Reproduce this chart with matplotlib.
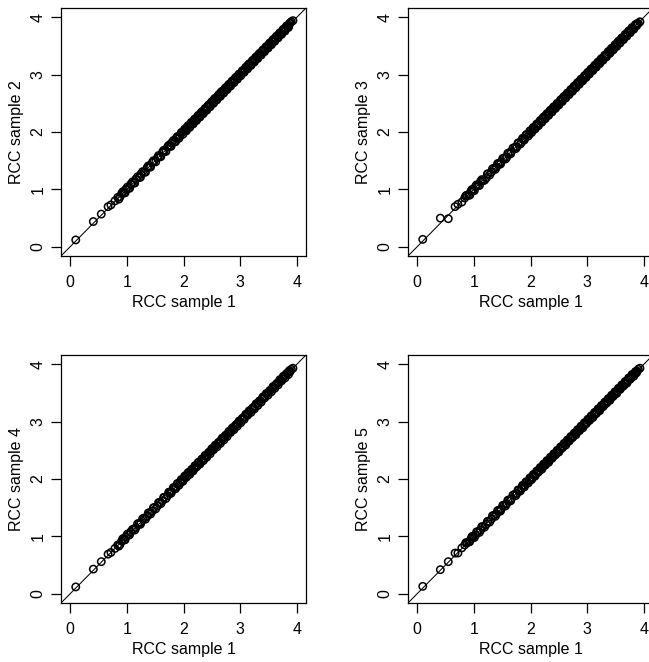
import numpy as np
import matplotlib
matplotlib.use("Agg")
import matplotlib.pyplot as plt

plt.rcParams['font.family'] = ['Liberation Sans', 'DejaVu Sans']

# RCC sample 1 (x axis of every panel)
sample1 = [0.10, 0.41, 0.55, 0.67, 0.72, 0.79, 0.84, 0.88, 0.91, 0.95,
           0.98, 1.03, 1.07, 1.12, 1.16, 1.22, 1.25, 1.31, 1.36, 1.40,
           1.45, 1.48, 1.54, 1.58, 1.63, 1.66, 1.72, 1.76, 1.79, 1.84,
           1.87, 1.90, 1.94, 1.98, 2.00, 2.04, 2.06, 2.10, 2.12, 2.15,
           2.19, 2.21, 2.25, 2.27, 2.31, 2.33, 2.37, 2.39, 2.42, 2.46,
           2.48, 2.52, 2.54, 2.57, 2.61, 2.63, 2.66, 2.70, 2.72, 2.75,
           2.79, 2.81, 2.85, 2.87, 2.90, 2.94, 2.96, 2.99, 3.03, 3.05,
           3.08, 3.12, 3.14, 3.17, 3.21, 3.23, 3.26, 3.30, 3.32, 3.35,
           3.39, 3.41, 3.44, 3.48, 3.50, 3.53, 3.57, 3.59, 3.62, 3.66,
           3.68, 3.71, 3.75, 3.77, 3.80, 3.84, 3.86, 3.88, 3.90, 3.93,
           0.86, 0.93, 0.97, 1.01, 1.05, 1.10, 1.14, 1.19, 1.24, 1.28,
           1.33, 1.38, 1.42, 1.47, 1.51, 1.56, 1.60, 1.65, 1.69, 1.74,
           1.78, 1.82, 1.86, 1.89, 1.92, 1.96, 1.99, 2.02, 2.05, 2.08,
           2.11, 2.14, 2.17, 2.20, 2.23, 2.26, 2.29, 2.32, 2.35, 2.38,
           2.41, 2.44, 2.47, 2.50, 2.53, 2.56, 2.59, 2.62, 2.65, 2.68,
           2.71, 2.74, 2.77, 2.80, 2.83, 2.86, 2.89, 2.92, 2.95, 2.98,
           3.01, 3.04, 3.07, 3.10, 3.13, 3.16, 3.19, 3.22, 3.25, 3.28,
           3.31, 3.34, 3.37, 3.40, 3.43, 3.46, 3.49, 3.52, 3.55, 3.58,
           3.61, 3.64, 3.67, 3.70, 3.73, 3.76, 3.79, 3.82, 3.85, 3.87]

sample2 = [0.12, 0.44, 0.57, 0.70, 0.73, 0.80, 0.86, 0.87, 0.93, 0.94,
           1.00, 1.02, 1.09, 1.11, 1.18, 1.21, 1.27, 1.30, 1.38, 1.39,
           1.47, 1.49, 1.55, 1.57, 1.65, 1.66, 1.74, 1.75, 1.81, 1.83,
           1.89, 1.91, 1.93, 2.00, 2.01, 2.03, 2.08, 2.09, 2.14, 2.14,
           2.21, 2.20, 2.27, 2.26, 2.33, 2.32, 2.39, 2.38, 2.44, 2.45,
           2.50, 2.51, 2.57, 2.56, 2.63, 2.62, 2.69, 2.69, 2.74, 2.74,
           2.81, 2.80, 2.87, 2.86, 2.92, 2.93, 2.98, 2.98, 3.05, 3.04,
           3.10, 3.11, 3.17, 3.16, 3.23, 3.22, 3.28, 3.29, 3.34, 3.34,
           3.41, 3.40, 3.46, 3.47, 3.52, 3.52, 3.59, 3.58, 3.64, 3.65,
           3.70, 3.70, 3.77, 3.76, 3.82, 3.83, 3.86, 3.90, 3.92, 3.94,
           0.83, 0.96, 0.94, 1.04, 1.02, 1.13, 1.11, 1.22, 1.21, 1.31,
           1.30, 1.41, 1.39, 1.50, 1.48, 1.59, 1.57, 1.68, 1.66, 1.77,
           1.75, 1.85, 1.83, 1.92, 1.89, 1.99, 1.96, 2.05, 2.02, 2.11,
           2.08, 2.17, 2.14, 2.23, 2.20, 2.29, 2.26, 2.35, 2.32, 2.41,
           2.38, 2.47, 2.44, 2.53, 2.50, 2.59, 2.56, 2.65, 2.62, 2.71,
           2.68, 2.77, 2.74, 2.83, 2.80, 2.89, 2.86, 2.95, 2.92, 3.01,
           2.98, 3.07, 3.04, 3.13, 3.10, 3.19, 3.16, 3.25, 3.22, 3.31,
           3.28, 3.37, 3.34, 3.43, 3.40, 3.49, 3.46, 3.55, 3.52, 3.61,
           3.58, 3.67, 3.64, 3.73, 3.70, 3.79, 3.76, 3.85, 3.82, 3.89]

sample3 = [0.13, 0.50, 0.49, 0.70, 0.74, 0.78, 0.85, 0.90, 0.90, 0.97,
           0.97, 1.05, 1.06, 1.14, 1.15, 1.20, 1.27, 1.30, 1.37, 1.39,
           1.46, 1.47, 1.55, 1.56, 1.64, 1.65, 1.73, 1.74, 1.81, 1.82,
           1.88, 1.89, 1.96, 1.96, 2.02, 2.06, 2.05, 2.11, 2.11, 2.16,
           2.18, 2.23, 2.24, 2.29, 2.30, 2.35, 2.36, 2.41, 2.41, 2.47,
           2.47, 2.53, 2.53, 2.59, 2.60, 2.65, 2.65, 2.71, 2.71, 2.77,
           2.78, 2.83, 2.84, 2.89, 2.89, 2.95, 2.95, 3.01, 3.02, 3.07,
           3.07, 3.13, 3.13, 3.19, 3.20, 3.25, 3.25, 3.31, 3.31, 3.36,
           3.38, 3.43, 3.43, 3.49, 3.49, 3.55, 3.56, 3.61, 3.61, 3.67,
           3.67, 3.73, 3.74, 3.78, 3.79, 3.85, 3.87, 3.89, 3.89, 3.92,
           0.89, 0.90, 1.00, 0.98, 1.08, 1.07, 1.17, 1.16, 1.27, 1.25,
           1.36, 1.35, 1.45, 1.44, 1.54, 1.53, 1.63, 1.62, 1.72, 1.71,
           1.81, 1.79, 1.89, 1.86, 1.95, 1.93, 2.02, 1.99, 2.08, 2.05,
           2.14, 2.11, 2.20, 2.17, 2.26, 2.23, 2.32, 2.29, 2.38, 2.35,
           2.44, 2.41, 2.50, 2.47, 2.56, 2.53, 2.62, 2.59, 2.68, 2.65,
           2.74, 2.71, 2.80, 2.77, 2.86, 2.83, 2.92, 2.89, 2.98, 2.95,
           3.04, 3.01, 3.10, 3.07, 3.16, 3.13, 3.22, 3.19, 3.28, 3.25,
           3.34, 3.31, 3.40, 3.37, 3.46, 3.43, 3.52, 3.49, 3.58, 3.55,
           3.64, 3.61, 3.70, 3.67, 3.76, 3.73, 3.82, 3.79, 3.87, 3.85]

sample4 = [0.12, 0.43, 0.56, 0.69, 0.72, 0.79, 0.85, 0.86, 0.92, 0.94,
           0.99, 1.02, 1.08, 1.13, 1.15, 1.23, 1.24, 1.32, 1.35, 1.41,
           1.44, 1.50, 1.53, 1.59, 1.62, 1.68, 1.71, 1.77, 1.78, 1.85,
           1.86, 1.92, 1.93, 1.99, 1.99, 2.06, 2.05, 2.12, 2.11, 2.17,
           2.18, 2.23, 2.24, 2.29, 2.30, 2.35, 2.36, 2.41, 2.41, 2.47,
           2.49, 2.53, 2.55, 2.58, 2.62, 2.64, 2.67, 2.71, 2.73, 2.76,
           2.80, 2.82, 2.86, 2.88, 2.91, 2.95, 2.97, 3.00, 3.04, 3.06,
           3.09, 3.13, 3.15, 3.18, 3.22, 3.24, 3.27, 3.31, 3.33, 3.36,
           3.40, 3.42, 3.45, 3.49, 3.51, 3.54, 3.58, 3.60, 3.63, 3.67,
           3.69, 3.72, 3.76, 3.78, 3.81, 3.85, 3.87, 3.87, 3.91, 3.93,
           0.83, 0.96, 0.94, 1.04, 1.03, 1.12, 1.11, 1.22, 1.21, 1.31,
           1.30, 1.41, 1.39, 1.50, 1.48, 1.59, 1.57, 1.68, 1.66, 1.77,
           1.75, 1.85, 1.83, 1.92, 1.89, 1.99, 1.96, 2.05, 2.03, 2.11,
           2.08, 2.16, 2.14, 2.23, 2.21, 2.29, 2.26, 2.34, 2.32, 2.41,
           2.38, 2.46, 2.44, 2.53, 2.51, 2.59, 2.56, 2.64, 2.62, 2.71,
           2.68, 2.76, 2.74, 2.83, 2.81, 2.89, 2.86, 2.94, 2.92, 3.01,
           2.98, 3.06, 3.04, 3.13, 3.11, 3.19, 3.16, 3.24, 3.22, 3.31,
           3.28, 3.36, 3.34, 3.43, 3.41, 3.49, 3.46, 3.54, 3.52, 3.61,
           3.58, 3.66, 3.64, 3.73, 3.71, 3.79, 3.76, 3.84, 3.82, 3.89]

sample5 = [0.13, 0.42, 0.56, 0.71, 0.71, 0.80, 0.85, 0.89, 0.90, 0.96,
           0.99, 1.02, 1.08, 1.11, 1.17, 1.21, 1.26, 1.30, 1.37, 1.39,
           1.46, 1.47, 1.55, 1.57, 1.64, 1.65, 1.73, 1.75, 1.80, 1.83,
           1.88, 1.89, 1.95, 1.97, 2.01, 2.03, 2.07, 2.09, 2.13, 2.14,
           2.20, 2.20, 2.26, 2.26, 2.32, 2.32, 2.38, 2.38, 2.43, 2.45,
           2.49, 2.51, 2.55, 2.56, 2.62, 2.62, 2.67, 2.69, 2.73, 2.74,
           2.80, 2.80, 2.86, 2.86, 2.91, 2.93, 2.97, 2.98, 3.04, 3.04,
           3.09, 3.11, 3.15, 3.16, 3.22, 3.22, 3.27, 3.29, 3.33, 3.34,
           3.40, 3.40, 3.45, 3.47, 3.51, 3.52, 3.58, 3.58, 3.63, 3.65,
           3.69, 3.70, 3.76, 3.76, 3.81, 3.83, 3.87, 3.88, 3.91, 3.93,
           0.89, 0.91, 1.00, 0.98, 1.08, 1.07, 1.17, 1.16, 1.26, 1.25,
           1.36, 1.35, 1.45, 1.44, 1.54, 1.53, 1.63, 1.62, 1.72, 1.71,
           1.81, 1.79, 1.89, 1.86, 1.95, 1.93, 2.02, 1.99, 2.08, 2.05,
           2.14, 2.12, 2.20, 2.17, 2.26, 2.24, 2.32, 2.29, 2.38, 2.36,
           2.44, 2.42, 2.50, 2.47, 2.56, 2.54, 2.62, 2.59, 2.68, 2.66,
           2.74, 2.72, 2.80, 2.77, 2.86, 2.84, 2.92, 2.89, 2.98, 2.96,
           3.04, 3.02, 3.10, 3.07, 3.16, 3.14, 3.22, 3.19, 3.28, 3.26,
           3.34, 3.32, 3.40, 3.37, 3.46, 3.44, 3.52, 3.49, 3.58, 3.56,
           3.64, 3.62, 3.70, 3.67, 3.76, 3.74, 3.82, 3.79, 3.87, 3.85]

panels = [("RCC sample 2", sample2), ("RCC sample 3", sample3),
          ("RCC sample 4", sample4), ("RCC sample 5", sample5)]

W, H = 649, 662
fig = plt.figure(figsize=(W / 100, H / 100), dpi=100)

# box corners in pixels (left, top) ; every box 245 x 248
corners = [(61, 8), (408, 8), (61, 355), (408, 355)]
bw, bh = 245, 248

for (ylab, yvals), (lx, ty) in zip(panels, corners):
    ax = fig.add_axes([lx / W, (H - ty - bh) / H, bw / W, bh / H])
    ax.scatter(sample1, yvals, s=28, facecolors='none', edgecolors='black',
               linewidths=1.1, zorder=2)
    ax.axline((0, 0), slope=1, color='black', lw=0.75, zorder=3)
    ax.set_xlim(-0.16, 4.16)
    ax.set_ylim(-0.16, 4.16)
    ax.set_xticks([0, 1, 2, 3, 4])
    ax.set_yticks([0, 1, 2, 3, 4])
    ax.tick_params(axis='both', direction='out', length=7, width=0.9,
                   labelsize=11.5, colors='black')
    ax.tick_params(axis='x', pad=7)
    ax.tick_params(axis='y', pad=4)
    for lab in ax.get_yticklabels():
        lab.set_rotation(90)
        lab.set_va('center')
    for sp in ax.spines.values():
        sp.set_linewidth(0.9)
    ax.set_xlabel("RCC sample 1", fontsize=11.5, labelpad=3)
    ax.set_ylabel(ylab, fontsize=11.5, labelpad=5)

fig.savefig("out.png", dpi=100)
